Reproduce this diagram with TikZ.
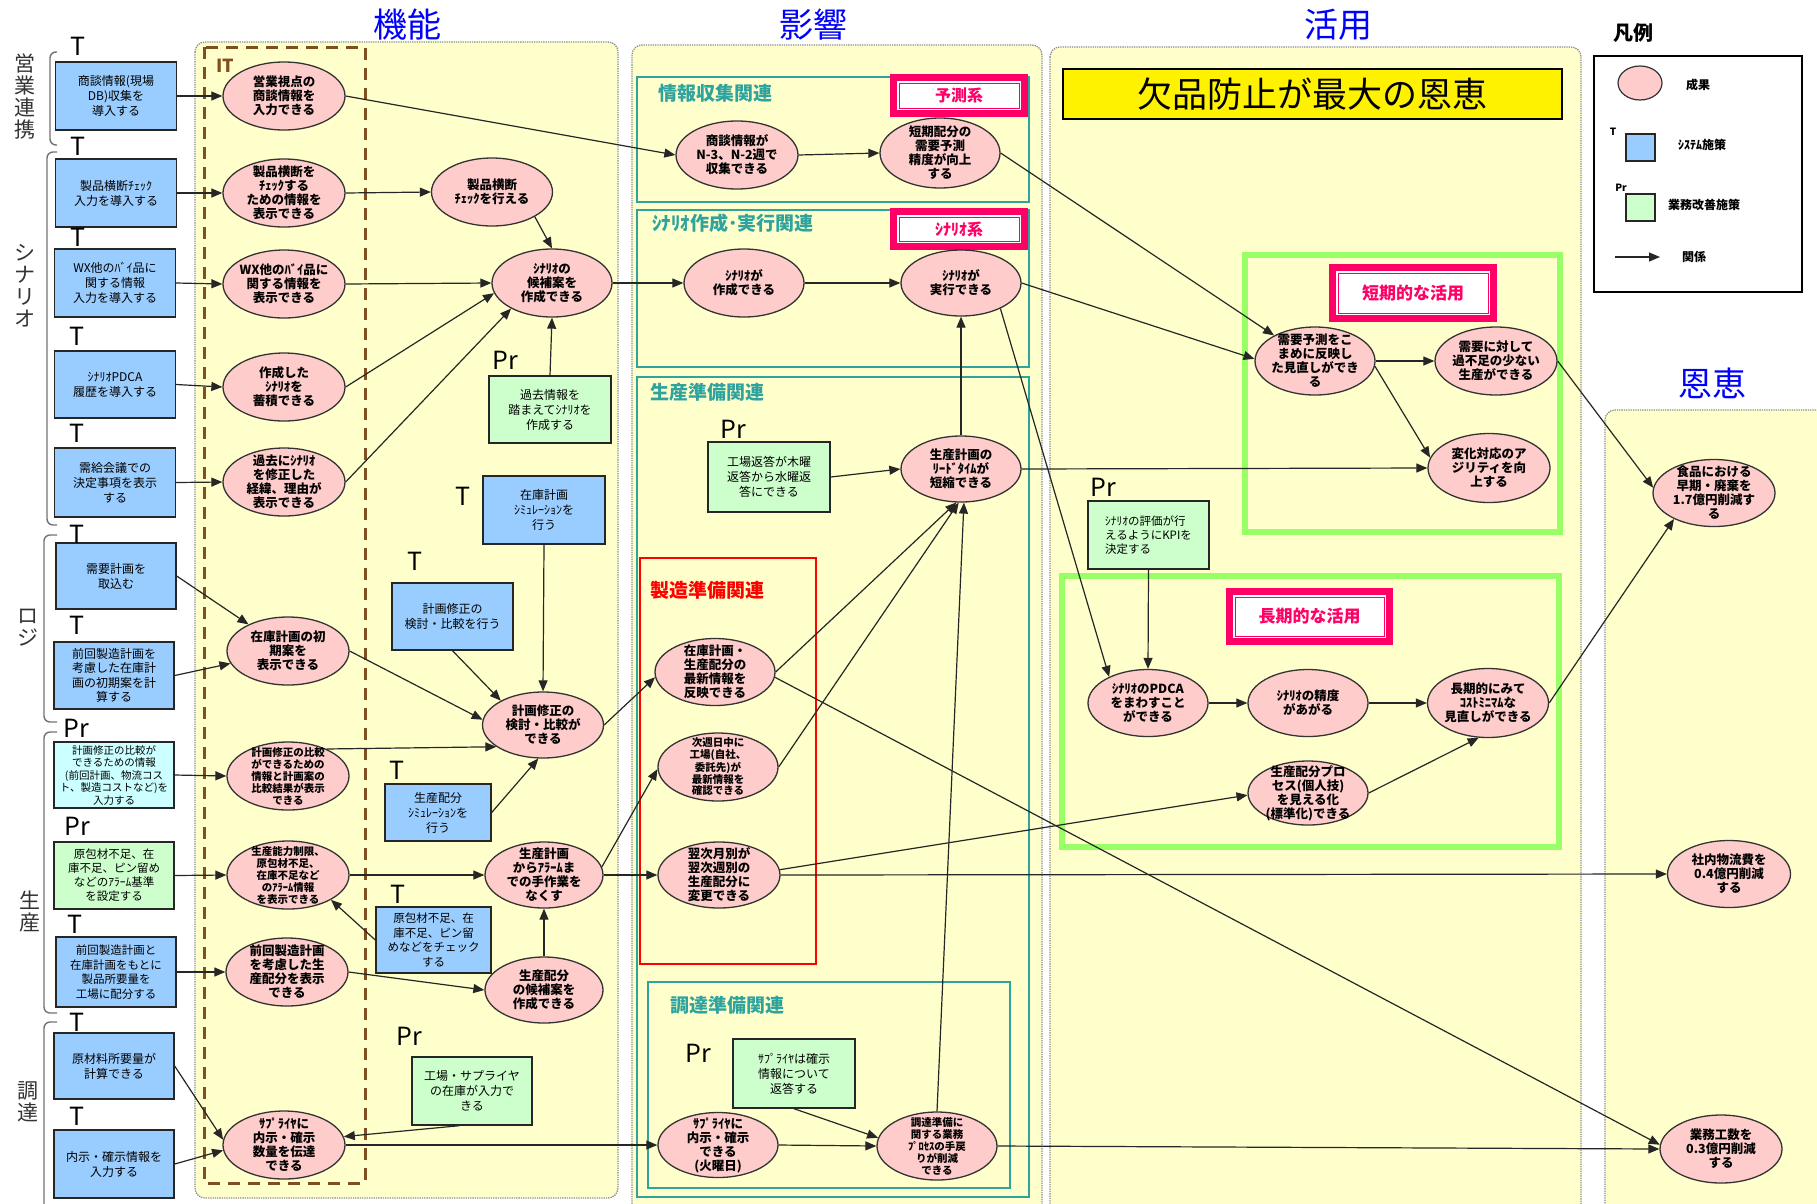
\documentclass[tikz,border=0pt]{standalone}
\usepackage{fontspec}
\setmainfont{Noto Sans CJK JP}
\usetikzlibrary{shapes.geometric,arrows.meta}
\definecolor{panelfill}{HTML}{FFFFCC}
\definecolor{ellfill}{HTML}{FFCCCC}
\definecolor{bluefill}{HTML}{99CCFF}
\definecolor{greenfill}{HTML}{CCFFCC}
\definecolor{cyanfill}{HTML}{CCFFFF}
\definecolor{tealc}{HTML}{2FA39E}
\definecolor{pinkc}{HTML}{FF0066}
\definecolor{lgreen}{HTML}{99FF66}
\definecolor{brownc}{HTML}{7F4F1F}
\definecolor{titleblue}{HTML}{0000FF}
\definecolor{paneledge}{HTML}{8C8C8C}
\definecolor{redc}{HTML}{FF0000}
\tikzset{
  panel/.style={draw=paneledge, fill=panelfill, line width=1.3pt, dash pattern=on 1.3pt off 1pt, rounded corners=10pt},
  ell/.style={ellipse, draw=black!80, line width=1.3pt, fill=ellfill, minimum width=122pt, minimum height=68pt, inner xsep=-6pt, inner ysep=-8pt, align=center, font=\bfseries\fontsize{12.5}{14}\selectfont},
  ellsm/.style={ell, font=\bfseries\fontsize{10.5}{12}\selectfont},
  sysbox/.style={rectangle, draw=black!85, line width=1.4pt, fill=bluefill, minimum width=121pt, minimum height=68pt, inner sep=1pt, align=center, font=\fontsize{12}{15}\selectfont},
  prbox/.style={sysbox, fill=greenfill},
  cybox/.style={sysbox, fill=cyanfill},
  tlab/.style={font=\fontsize{25}{25}\selectfont, inner sep=0pt},
  arr/.style={-{Triangle[length=11pt,width=9pt]}, line width=1.2pt, draw=black!85},
  tealbox/.style={draw=tealc, line width=1.5pt},
  tealtitle/.style={text=tealc, font=\bfseries\fontsize{19}{19}\selectfont, anchor=west, inner sep=0pt},
  bigtitle/.style={text=titleblue, font=\fontsize{34}{34}\selectfont, inner sep=0pt},
  grouplab/.style={text=black!80, font=\fontsize{21}{22}\selectfont, align=center, inner sep=0pt},
  brk/.style={draw=black!55, line width=1.4pt, rounded corners=6pt},
  greenfr/.style={draw=lgreen, line width=6pt},
  pinklab/.style={rectangle, draw=pinkc, line width=7pt, fill=white, text=pinkc, font=\bfseries\fontsize{16}{16}\selectfont,
    path picture={\draw[pinkc, line width=0.9pt] ([shift={(5.5pt,5.5pt)}]path picture bounding box.south west) rectangle ([shift={(-5.5pt,-5.5pt)}]path picture bounding box.north east);}},
  legtxt/.style={font=\bfseries\fontsize{12}{12}\selectfont, inner sep=0pt},
}
\begin{document}
\begin{tikzpicture}[x=1pt, y=-1pt]
\useasboundingbox (0,0) rectangle (1817,1203);
\fill[white] (0,0) rectangle (1817,1203);

% ---------- panels ----------
\draw[panel] (195,42) rectangle (618,1198);
\draw[panel] (632,45) rectangle (1042,1240);
\draw[panel] (1050,47) rectangle (1581,1240);
\draw[panel] (1605,410) rectangle (1850,1240);

\node[bigtitle] (tk) at (407,25) {機能};
\node[bigtitle] (te) at (813,25) {影響};
\node[bigtitle] (tu) at (1338,25) {活用};
\node[bigtitle] (tb) at (1712,383) {恩恵};

% IT dashed box
\draw[brownc, line width=3pt, dash pattern=on 12pt off 8pt] (204,47) rectangle (365,1183);
\node[text=brownc, font=\bfseries\fontsize{18}{18}\selectfont, inner sep=0pt] (itlab) at (225,66) {IT};

% sub panels in 影響
\draw[tealbox] (637,77) rectangle (1029,202);
\draw[tealbox] (637,210) rectangle (1029,367);
\draw[tealbox] (637,377) rectangle (1029,1197);
\draw[redc, line width=1.5pt] (640,558) rectangle (816,964);
\draw[tealbox] (648,982) rectangle (1010,1188);
\node[tealtitle] (s1) at (658,93) {情報収集関連};
\node[tealtitle] (s2) at (652,223) {ｼﾅﾘｵ作成･実行関連};
\node[tealtitle] (s3) at (650,392) {生産準備関連};
\node[tealtitle, text=redc] (s4) at (650,590) {製造準備関連};
\node[tealtitle] (s5) at (670,1005) {調達準備関連};

\node[pinklab, minimum width=131pt, minimum height=36pt] (l1) at (959,95.5) {予測系};
\node[pinklab, minimum width=131pt, minimum height=35pt] (l2) at (959,229) {ｼﾅﾘｵ系};

% 活用 frames
\draw[greenfr] (1245,255) rectangle (1560,532);
\draw[greenfr] (1062,576) rectangle (1559,847);
\node[pinklab, minimum width=161pt, minimum height=51pt, font=\bfseries\fontsize{17}{17}\selectfont] (l3) at (1413,293) {短期的な活用};
\node[pinklab, minimum width=160pt, minimum height=50pt, font=\bfseries\fontsize{17}{17}\selectfont] (l4) at (1309.5,616.5) {長期的な活用};
\node[draw=black, line width=1.5pt, fill=yellow, minimum width=499pt, minimum height=50pt, inner sep=0pt, font=\fontsize{35}{35}\selectfont] (banner) at (1312.5,94) {欠品防止が最大の恩恵};

% ---------- legend ----------
\node[font=\bfseries\fontsize{20}{20}\selectfont, inner sep=0pt] (legtitle) at (1633,33) {凡例};
\node[draw=black, line width=1.4pt, minimum width=208pt, minimum height=236pt] (legend) at (1698,174) {};
\node[ellipse, draw=black!80, line width=1.2pt, fill=ellfill, minimum width=44pt, minimum height=34pt] (legell) at (1640,83) {};
\node[legtxt] (legellt) at (1698,85) {成果};
\node[draw=black!85, line width=1.2pt, fill=bluefill, minimum width=29pt, minimum height=27pt] (legsys) at (1640.5,147.5) {};
\node[font=\bfseries\fontsize{10}{10}\selectfont, inner sep=0pt] (legT) at (1613,132) {T};
\node[legtxt] (legsyst) at (1702,145) {ｼｽﾃﾑ施策};
\node[draw=black!85, line width=1.2pt, fill=greenfill, minimum width=29pt, minimum height=27pt] (legpr) at (1640.5,207.5) {};
\node[font=\bfseries\fontsize{10}{10}\selectfont, inner sep=0pt] (legP) at (1621,188) {Pr};
\node[legtxt] (legprt) at (1704,205) {業務改善施策};
\coordinate (la1) at (1615,257);
\coordinate (la2) at (1660,257);
\draw[arr] (la1) -- (la2);
\node[legtxt] (legarrt) at (1694,257) {関係};

% ---------- group labels ----------
\node[grouplab] (g_eigyo) at (25,97) {営\\業\\連\\携};
\node[grouplab] (g_scen) at (25,286) {シ\\ナ\\リ\\オ};
\node[grouplab] (g_logi) at (28,628) {ロ\\ジ};
\node[grouplab] (g_seisan) at (30,911) {生\\産};
\node[grouplab] (g_chotatsu) at (28,1102) {調\\達};
\draw[brk] (57,52) -- (50,52) -- (50,145) -- (57,145);
\draw[brk] (57,152) -- (47,152) -- (47,525) -- (57,525);
\draw[brk] (57,535) -- (44,535) -- (44,722) -- (57,722);
\draw[brk] (57,732) -- (44,732) -- (44,1013) -- (57,1013);
\draw[brk] (57,1022) -- (44,1022) -- (44,1230);

% ---------- left boxes ----------
\node[sysbox] (b1) at (116,96) {商談情報(現場\\DB)収集を\\導入する};
\node[sysbox] (b2) at (116,193) {製品横断ﾁｪｯｸ\\入力を導入する};
\node[sysbox] (b3) at (115,283) {WX他のﾊﾞｲ品に\\関する情報\\入力を導入する};
\node[sysbox, minimum height=67pt] (b4) at (115,384.5) {ｼﾅﾘｵPDCA\\履歴を導入する};
\node[sysbox, minimum height=69pt] (b5) at (115,482.5) {需給会議での\\決定事項を表示\\する};
\node[sysbox, minimum width=120pt, minimum height=66pt] (b6) at (116,576) {需要計画を\\取込む};
\node[sysbox, minimum width=120pt, minimum height=67pt, font=\fontsize{12}{14.5}\selectfont] (b7) at (114,675.5) {前回製造計画を\\考慮した在庫計\\画の初期案を計\\算する};
\node[cybox, minimum width=120pt, minimum height=66pt, font=\fontsize{10.5}{12.5}\selectfont] (b8) at (114,775) {計画修正の比較が\\できるための情報\\(前回計画、物流コス\\ト、製造コストなど)を\\入力する};
\node[prbox, minimum width=120pt, minimum height=67pt, font=\fontsize{11.5}{14}\selectfont] (b9) at (114,875.5) {原包材不足、在\\庫不足、ピン留め\\などのｱﾗｰﾑ基準\\を設定する};
\node[sysbox, minimum width=120pt, minimum height=70pt, font=\fontsize{11.5}{14.5}\selectfont] (b10) at (116,972) {前回製造計画と\\在庫計画をもとに\\製品所要量を\\工場に配分する};
\node[sysbox, minimum width=120pt, minimum height=66pt] (b11) at (114,1066) {原材料所要量が\\計算できる};
\node[sysbox, minimum width=120pt, minimum height=68pt] (b12) at (114,1164) {内示・確示情報を\\入力する};

\node[tlab] (tb1) at (78,46) {T};
\node[tlab] (tb2) at (78,146) {T};
\node[tlab] (tb3) at (78,237) {T};
\node[tlab] (tb4) at (77,336) {T};
\node[tlab] (tb5) at (77,433) {T};
\node[tlab] (tb6) at (77,534) {T};
\node[tlab] (tb7) at (77,625) {T};
\node[tlab] (tb8) at (76,728) {Pr};
\node[tlab] (tb9) at (77,826) {Pr};
\node[tlab] (tb10) at (75,924) {T};
\node[tlab] (tb11) at (77,1022) {T};
\node[tlab] (tb12) at (77,1116) {T};

% ---------- IT ellipses ----------
\node[ell] (e1) at (284,96) {営業視点の\\商談情報を\\入力できる};
\node[ell] (e2) at (284,193) {製品横断を\\ﾁｪｯｸする\\ための情報を\\表示できる};
\node[ell] (e3) at (284,284) {WX他のﾊﾞｲ品に\\関する情報を\\表示できる};
\node[ell] (e4) at (284,387) {作成した\\ｼﾅﾘｵを\\蓄積できる};
\node[ell] (e5) at (284,482) {過去にｼﾅﾘｵ\\を修正した\\経緯、理由が\\表示できる};
\node[ell] (e6) at (288,651) {在庫計画の初\\期案を\\表示できる};
\node[ellsm] (e7) at (288,776) {計画修正の比較\\ができるための\\情報と計画案の\\比較結果が表示\\できる};
\node[ellsm] (e8) at (288,875) {生産能力制限、\\原包材不足、\\在庫不足など\\のｱﾗｰﾑ情報\\を表示できる};
\node[ell] (e9) at (287,972) {前回製造計画\\を考慮した生\\産配分を表示\\できる};
\node[ell] (e10) at (284,1145) {ｻﾌﾟﾗｲﾔに\\内示・確示\\数量を伝達\\できる};

% ---------- 機能 column 3 ----------
\node[ell, minimum width=121pt] (c1) at (492,192) {製品横断\\ﾁｪｯｸを行える};
\node[ell, minimum width=120pt] (c2) at (552,283) {ｼﾅﾘｵの\\候補案を\\作成できる};
\node[prbox, minimum width=122pt, minimum height=67pt] (p1) at (550,409.5) {過去情報を\\踏まえてｼﾅﾘｵを\\作成する};
\node[tlab] (tp1) at (505,360) {Pr};
\node[sysbox, minimum width=122pt, minimum height=68pt] (t1) at (544,510) {在庫計画\\ｼﾐｭﾚｰｼｮﾝを\\行う};
\node[tlab] (tt1) at (463,496) {T};
\node[sysbox, minimum width=121pt, minimum height=67pt] (t2) at (452.5,616.5) {計画修正の\\検討・比較を行う};
\node[tlab] (tt2) at (415,561) {T};
\node[ell, minimum width=121pt, minimum height=66pt] (c3) at (543,725) {計画修正の\\検討・比較が\\できる};
\node[sysbox, minimum width=106pt, minimum height=57pt] (t3) at (438,812.5) {生産配分\\ｼﾐｭﾚｰｼｮﾝを\\行う};
\node[tlab] (tt3) at (397,770) {T};
\node[ell, minimum width=118pt, minimum height=66pt] (c4) at (544,875) {生産計画\\からｱﾗｰﾑま\\での手作業を\\なくす};
\node[sysbox, minimum width=115pt, minimum height=66pt, font=\fontsize{11.5}{14.5}\selectfont] (t4) at (433.5,940) {原包材不足、在\\庫不足、ピン留\\めなどをチェック\\する};
\node[tlab] (tt4) at (398,894) {T};
\node[ell, minimum width=118pt, minimum height=66pt] (c5) at (544,990) {生産配分\\の候補案を\\作成できる};
\node[prbox, minimum width=120pt, minimum height=68pt] (p2) at (472,1091) {工場・サプライヤ\\の在庫が入力で\\きる};
\node[tlab] (tp2) at (409,1036) {Pr};

% ---------- 影響 ----------
\node[ell] (f1) at (737,155) {商談情報が\\N-3、N-2週で\\収集できる};
\node[ell, minimum width=120pt, minimum height=70pt] (f2) at (940,153) {短期配分の\\需要予測\\精度が向上\\する};
\node[ell, minimum width=120pt] (f3) at (744,283) {ｼﾅﾘｵが\\作成できる};
\node[ell, minimum width=120pt, minimum height=66pt] (f4) at (961,283) {ｼﾅﾘｵが\\実行できる};
\node[prbox, minimum width=122pt, minimum height=70pt] (p3) at (769,477) {工場返答が木曜\\返答から水曜返\\答にできる};
\node[tlab] (tp3) at (733,429) {Pr};
\node[ell, minimum width=120pt, minimum height=66pt] (f5) at (961,469) {生産計画の\\ﾘｰﾄﾞﾀｲﾑが\\短縮できる};
\node[ell, minimum width=120pt, minimum height=67pt] (f6) at (715,672) {在庫計画・\\生産配分の\\最新情報を\\反映できる};
\node[ellsm, minimum width=120pt, minimum height=68pt] (f7) at (718,767) {次週日中に\\工場(自社、\\委託先)が\\最新情報を\\確認できる};
\node[ell, minimum width=122pt, minimum height=66pt] (f8) at (719,875) {翌次月別が\\翌次週別の\\生産配分に\\変更できる};
\node[prbox, minimum width=122pt, minimum height=69pt] (p4) at (794,1073.5) {ｻﾌﾟﾗｲﾔは確示\\情報について\\返答する};
\node[tlab] (tp4) at (698,1053) {Pr};
\node[ell, minimum width=120pt, minimum height=65pt] (f9) at (718,1145) {ｻﾌﾟﾗｲﾔに\\内示・確示\\できる\\(火曜日)};
\node[ellsm, minimum width=120pt, minimum height=68pt] (f10) at (937,1146) {調達準備に\\関する業務\\ﾌﾟﾛｾｽの手戻\\りが削減\\できる};

% ---------- 活用 ----------
\node[ell, minimum width=120pt] (g1) at (1315,361) {需要予測をこ\\まめに反映し\\た見直しができ\\る};
\node[ell, minimum width=122pt] (g2) at (1496,361) {需要に対して\\過不足の少ない\\生産ができる};
\node[ell, minimum width=122pt, minimum height=69pt] (g3) at (1489,468) {変化対応のア\\ジリティを向\\上する};
\node[prbox, minimum width=121pt, minimum height=68pt, align=left, font=\fontsize{11.5}{14}\selectfont] (p5) at (1148.5,535) {ｼﾅﾘｵの評価が行\\えるようにKPIを\\決定する};
\node[tlab] (tp5) at (1103,487) {Pr};
\node[ell, minimum width=120pt, minimum height=67pt] (g4) at (1148,703) {ｼﾅﾘｵのPDCA\\をまわすこと\\ができる};
\node[ell, minimum width=120pt, minimum height=67pt] (g5) at (1308,703) {ｼﾅﾘｵの精度\\があがる};
\node[ell, minimum width=121pt, minimum height=69pt] (g6) at (1488,703) {長期的にみて\\ｺｽﾄﾐﾆﾏﾑな\\見直しができる};
\node[ell, minimum width=120pt, minimum height=64pt] (g7) at (1308,793) {生産配分プロ\\セス(個人技)\\を見える化\\(標準化)できる};

% ---------- 恩恵 ----------
\node[ell, minimum width=122pt, minimum height=67pt] (h1) at (1714,493) {食品における\\早期・廃棄を\\1.7億円削減す\\る};
\node[ell, minimum width=123pt, minimum height=67pt] (h2) at (1729,874) {社内物流費を\\0.4億円削減\\する};
\node[ell, minimum width=122pt, minimum height=68pt] (h3) at (1721,1149) {業務工数を\\0.3億円削減\\する};

% ---------- connectors ----------
\draw[arr] (b1.east) -- (e1.west);
\draw[arr] (b2.east) -- (e2.west);
\draw[arr] (b3.east) -- (e3.west);
\draw[arr] (b4.east) -- (e4.west);
\draw[arr] (b5.east) -- (e5.west);
\draw[arr] (b6.east) -- (e6);
\draw[arr] (b7.east) -- (e6);
\draw[arr] (b8.east) -- (e7.west);
\draw[arr] (b9.east) -- (e8.west);
\draw[arr] (b10.east) -- (e9.west);
\draw[arr] (b11.east) -- (e10.175);
\draw[arr] (b12.east) -- (e10.185);
\draw[arr] (e1.east) -- (f1.west);
\draw[arr] (e2.east) -- (c1.west);
\draw[arr] (c1.-30) -- (c2.north);
\draw[arr] (e3.east) -- (c2.west);
\draw[arr] (e4.east) -- (c2.190);
\draw[arr] (e5.east) -- (c2.212);
\draw[arr] (p1.north) -- (c2.south);
\draw[arr] (c2.east) -- (f3.west);
\draw[arr] (f3.east) -- (f4.west);
\draw[arr] (f1.east) -- (f2.west);
\draw[arr] (f2.east) -- (g1.148);
\draw[arr] (f4.east) -- (g1.178);
\draw[arr] (f4.-33) -- (g4.146);
\draw[arr] (f5.north) -- (f4.south);
\draw[arr] (f5.east) -- (g3.west);
\draw[arr] (p3.east) -- (f5.west);
\draw[arr] (g1.east) -- (g2.west);
\draw[arr] (g1.-5) -- (g3.170);
\draw[arr] (g2.east) -- (h1.175);
\draw[arr] (g6.east) -- (h1.213);
\draw[arr] (p5.south) -- (g4.north);
\draw[arr] (g4.east) -- (g5.west);
\draw[arr] (g5.east) -- (g6.west);
\draw[arr] (g7.east) -- (g6.255);
\draw[arr] (e6.east) -- (c3.175);
\draw[arr] (t2.south) -- (c3.150);
\draw[arr] (t1.south) -- (c3.north);
\draw[arr] (e7.35) -- (c3.205);
\draw[arr] (t3.east) -- (c3.262);
\draw[arr] (c3.east) -- (f6.185);
\draw[arr] (f6.east) -- (f5.262);
\draw[arr] (f6.-5) -- (h3.176);
\draw[arr] (f7.east) -- (f5.266);
\draw[arr] (c4.8) -- (f7.182);
\draw[arr] (c4.east) -- (f8.west);
\draw[arr] (f8.5) -- (g7.182);
\draw[arr] (f8.east) -- (h2.west);
\draw[arr] (e8.east) -- (c4.west);
\draw[arr] (t4.west) -- (e8.-30);
\draw[arr] (c5.north) -- (c4.south);
\draw[arr] (e9.east) -- (c5.west);
\draw[arr] (p2.250) -- (e10.8);
\draw[arr] (e10.east) -- (f9.west);
\draw[arr] (f9.east) -- (f10.west);
\draw[arr] (p4.south) -- (f10.172);
\draw[arr] (f10.north) -- (f5.275);
\draw[arr] (f10.east) -- (h3.west);
\end{tikzpicture}
\end{document}
